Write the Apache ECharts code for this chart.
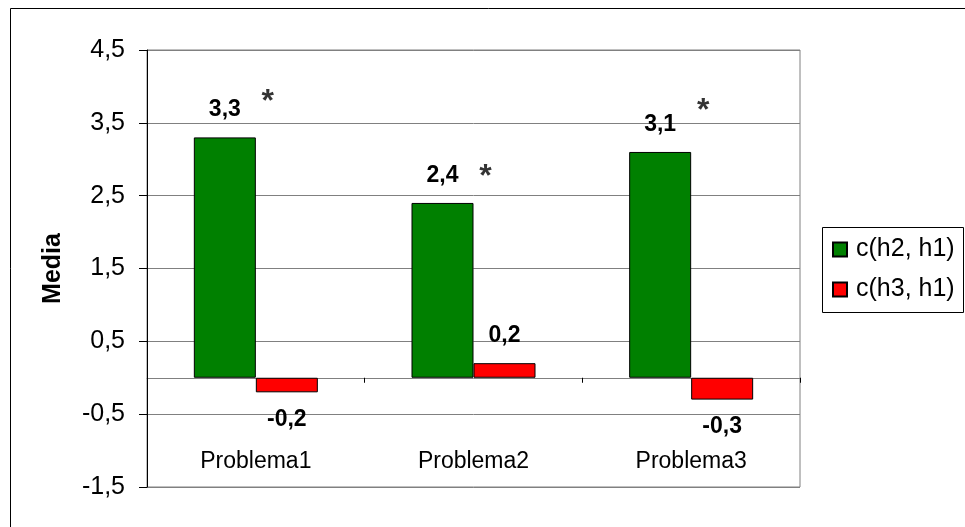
<!DOCTYPE html>
<html>
<head>
<meta charset="utf-8">
<script src="https://cdn.jsdelivr.net/npm/echarts@6/dist/echarts.min.js"></script>
<style>
  html, body { margin: 0; padding: 0; background: #fff; }
  #chart { width: 965px; height: 527px; }
</style>
</head>
<body>
<div id="chart"></div>
<script>
// Category names and the two difference series
const categories = ['Problema1', 'Problema2', 'Problema3'];
const seriesNames = ['c(h2, h1)', 'c(h3, h1)'];
const h2h1 = [3.3, 2.4, 3.1];
const h3h1 = [-0.2, 0.2, -0.3];
// Height at which each significance star sits
const starLevels = [3.79, 2.76, 3.66];
// Value-axis tick labels, from -1,5 up to 4,5
const yTickLabels = ['-1,5', '-0,5', '0,5', '1,5', '2,5', '3,5', '4,5'];

const FONT = 'Liberation Sans, Arial, sans-serif';
const fmt = v => v.toFixed(1).replace('.', ',');

function barData(values) {
  return values.map(v => ({
    value: v,
    label: { position: v < 0 ? 'bottom' : 'top' }
  }));
}

const barLabel = {
  show: true,
  distance: 16,
  fontFamily: FONT,
  fontSize: 23,
  fontWeight: 'bold',
  color: '#000',
  formatter: p => fmt(p.value)
};

const chart = echarts.init(document.getElementById('chart'), null, { renderer: 'canvas' });

chart.setOption({
  animation: false,
  backgroundColor: '#fff',
  grid: {
    left: 147, right: 165, top: 50, bottom: 40,
    outerBoundsMode: 'none',
    containLabel: false,
    show: true, borderColor: '#808080', borderWidth: 1
  },
  legend: {
    orient: 'vertical',
    left: 832, top: 237,
    padding: 0,
    itemWidth: 14, itemHeight: 14, itemGap: 15,
    icon: 'rect',
    textStyle: { fontFamily: FONT, fontSize: 25, color: '#000', padding: [0, 0, 0, 4] },
    data: seriesNames
  },
  graphic: [
    {
      type: 'rect', silent: true, z: -1,
      shape: { x: 10.5, y: 8.5, width: 1000, height: 600 },
      style: { fill: null, stroke: '#000', lineWidth: 1 }
    },
    {
      type: 'rect', silent: true, z: -1,
      shape: { x: 822.5, y: 227.5, width: 141, height: 85 },
      style: { fill: '#fff', stroke: '#000', lineWidth: 1 }
    }
  ],
  xAxis: {
    type: 'category',
    data: categories,
    boundaryGap: true,
    axisLine: { onZero: true, onZeroAxisIndex: 0, lineStyle: { color: '#808080', width: 1 } },
    axisTick: { show: true, inside: false, length: 5, alignWithLabel: false, lineStyle: { color: '#000' } },
    // labels are laid out from the lower edge of the plot
    axisLabel: { margin: -37, fontFamily: FONT, fontSize: 23, color: '#000' },
    splitLine: { show: false }
  },
  yAxis: [
    {
      // scale for the bars
      type: 'value', min: -1.5, max: 4.5,
      show: false
    },
    {
      // ticks, grid lines and labels
      type: 'value', min: 0, max: 6, interval: 1,
      position: 'left',
      name: 'Media',
      nameLocation: 'middle',
      nameRotate: 90,
      nameGap: 81,
      nameTextStyle: { fontFamily: FONT, fontSize: 25, fontWeight: 'bold', color: '#000' },
      axisLine: { show: true, lineStyle: { color: '#000', width: 1 } },
      axisTick: { show: true, length: 8, lineStyle: { color: '#000' } },
      axisLabel: {
        margin: 22,
        fontFamily: FONT, fontSize: 25, color: '#000',
        formatter: (v) => yTickLabels[Math.round(v)]
      },
      splitLine: { show: true, lineStyle: { color: '#808080', width: 1 } }
    }
  ],
  series: [
    {
      name: seriesNames[0],
      type: 'bar',
      yAxisIndex: 0,
      data: barData(h2h1),
      barWidth: 62,
      barGap: '0%',
      itemStyle: { color: '#008000', borderColor: '#000', borderWidth: 1 },
      label: barLabel
    },
    {
      name: seriesNames[1],
      type: 'bar',
      yAxisIndex: 0,
      data: barData(h3h1),
      barWidth: 62,
      barGap: '0%',
      itemStyle: { color: '#ff0000', borderColor: '#000', borderWidth: 1 },
      label: barLabel
    },
    {
      // significance stars above the first series
      name: 'stars',
      type: 'scatter',
      yAxisIndex: 0,
      data: starLevels,
      symbolSize: 0,
      silent: true,
      label: {
        show: true,
        position: 'inside',
        offset: [12, 0],
        formatter: '*',
        fontFamily: FONT, fontSize: 32, fontWeight: 'bold', color: '#000'
      }
    }
  ]
});
</script>
</body>
</html>
